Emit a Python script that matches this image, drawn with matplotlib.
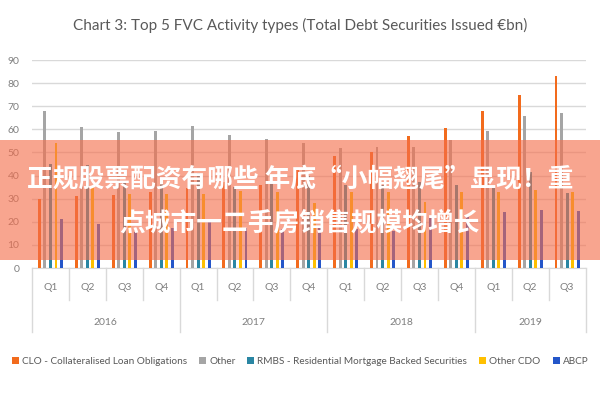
import matplotlib
matplotlib.use("Agg")
import matplotlib.pyplot as plt
from matplotlib.patches import Rectangle
import numpy as np

quarters = ['Q1', 'Q2', 'Q3', 'Q4', 'Q1', 'Q2', 'Q3', 'Q4', 'Q1', 'Q2', 'Q3', 'Q4', 'Q1', 'Q2', 'Q3']
years = ['2016', '2017', '2018', '2019']
year_counts = [4, 4, 4, 3]

series_names = ['CLO - Collateralised Loan Obligations', 'Other',
                'RMBS - Residential Mortgage Backed Securities', 'Other CDO', 'ABCP']
clo = [30, 31, 31.6, 33, 34.5, 37, 36, 43, 48.5, 50.3, 57.1, 60.7, 68, 75, 83]
other = [68, 61, 58.8, 59.4, 61.4, 57.5, 55.7, 54, 51.8, 52.5, 52.2, 55.4, 59.3, 65.8, 66.9]
rmbs = [45, 44.6, 37, 37.4, 41, 35, 36.6, 40, 36, 36, 37.4, 36, 34.5, 41.7, 32.3]
other_cdo = [54, 35, 32, 32, 32, 33.5, 33, 28, 33, 33, 28.7, 33, 33, 33.8, 33]
abcp = [21, 19, 15.7, 17.2, 20, 17.2, 17, 17.9, 17, 16, 21.5, 22, 24.4, 25.1, 24.8]

colors = ['#F26B1D', '#A5A5A5', '#2A86A3', '#FFC000', '#2456C9']
title = 'Chart 3: Top 5 FVC Activity types (Total Debt Securities Issued €bn)'
overlay_l1 = '正规股票配资有哪些 年底“小幅翘尾”显现！重'
overlay_l2 = '点城市一二手房销售规模均增长'

narrow = ['Lato', 'DejaVu Sans']
txtgray = '#7F7F7F'

fig = plt.figure(figsize=(6, 4), dpi=100)
ax = fig.add_axes([32/600, 1-268/400, (585.5-32)/600, 208/400])

x = np.arange(len(quarters))
data = [clo, other, rmbs, other_cdo, abcp]
w = 0.08
step = 0.15
for i, (vals, c, name) in enumerate(zip(data, colors, series_names)):
    ax.bar(x + (i - 2) * step, vals, width=w, color=c, label=name, zorder=3)

ax.set_xlim(-0.5, len(quarters) - 0.5)
ax.set_ylim(0, 90)
ax.set_yticks(range(0, 91, 10))
ax.yaxis.grid(True, color='#D9D9D9', linewidth=1.0, zorder=0)
ax.set_axisbelow(True)
for s in ['top', 'right', 'left']:
    ax.spines[s].set_visible(False)
ax.spines['bottom'].set_color('#D9D9D9')
ax.tick_params(axis='y', length=0, labelsize=7.5, labelcolor=txtgray, pad=9)
for lab in ax.get_yticklabels():
    lab.set_family(narrow)
ax.set_xticks([])

tr = ax.get_xaxis_transform()
for xi, q in zip(x, quarters):
    ax.text(xi, -0.096, q, transform=tr, ha='center', va='center',
            fontsize=7.5, color=txtgray, family=narrow)
bounds = np.cumsum([0] + year_counts) - 0.5
for b in np.arange(-0.5, len(quarters), 1.0):
    is_year = np.any(np.isclose(bounds, b))
    y1 = -0.308 if is_year else -0.154
    ax.plot([b, b], [0, y1], transform=tr, color='#D9D9D9', lw=1.0, clip_on=False)
for k, yr in enumerate(years):
    cx = (bounds[k] + bounds[k + 1]) / 2
    ax.text(cx, -0.26, yr, transform=tr, ha='center', va='center',
            fontsize=7.5, color=txtgray, family=narrow)

fig.text(0.5, 1-25/400, title, ha='center', va='center', fontsize=11,
         color='#595959', family=narrow)

handles, labels = ax.get_legend_handles_labels()
leg = fig.legend(handles, labels, loc='center', bbox_to_anchor=(0.5, 1-361/400),
                 ncol=5, frameon=False, handlelength=0.7, handleheight=0.7,
                 handletextpad=0.3, columnspacing=1.2, borderaxespad=0,
                 prop={'family': narrow, 'size': 7.2})
for t in leg.get_texts():
    t.set_color('#595959')

fig.add_artist(Rectangle((0, 1-260/400), 1, 120/400, transform=fig.transFigure,
                         facecolor=(245/255, 110/255, 75/255), alpha=0.62,
                         edgecolor='none', zorder=10))
cjk = ['Noto Sans CJK SC', 'DejaVu Sans']
fig.text(0.5, 1-180/400, overlay_l1, ha='center', va='center', fontsize=18.5,
         color='white', fontweight='bold', family=cjk, zorder=11)
fig.text(0.5, 1-223/400, overlay_l2, ha='center', va='center', fontsize=18.5,
         color='white', fontweight='bold', family=cjk, zorder=11)

fig.savefig('out.png', dpi=100)
